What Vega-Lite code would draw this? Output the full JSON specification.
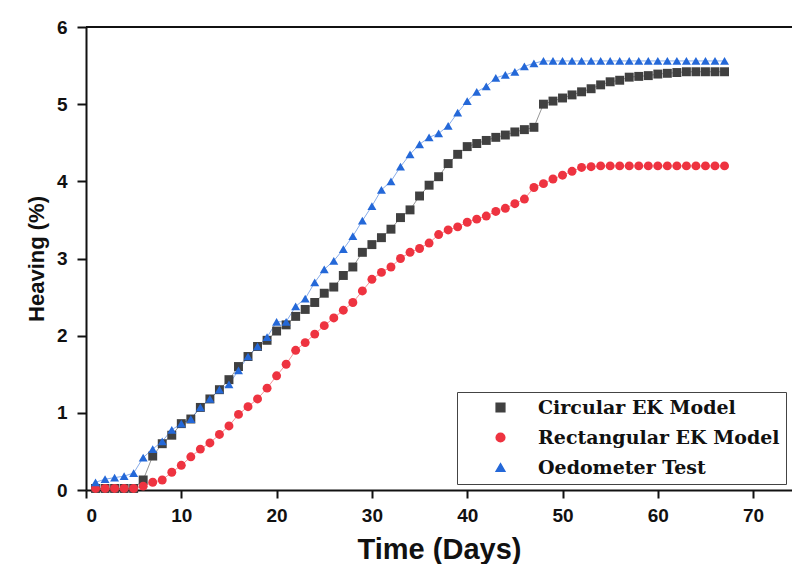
{
  "$schema": "https://vega.github.io/schema/vega-lite/v6.json",
  "autosize": {"type": "none"},
  "padding": {"left": 86, "top": 27, "right": 0, "bottom": 74},
  "width": 706,
  "height": 463,
  "background": "white",
  "config": {
    "view": {"stroke": null},
    "axis": {
      "domainColor": "#111",
      "domainWidth": 2,
      "tickColor": "#111",
      "tickWidth": 2,
      "grid": false,
      "labelFont": "Liberation Sans",
      "labelFontWeight": "bold",
      "labelFontSize": 19,
      "labelColor": "#111",
      "titleFont": "Liberation Sans",
      "titleFontWeight": "bold",
      "titleColor": "#111"
    },
    "legend": {
      "orient": "bottom-right", "offset": 6,
      "strokeColor": "#444", "padding": 6, "fillColor": "white",
      "labelFont": "DejaVu Serif", "labelFontWeight": "bold", "labelFontSize": 19, "labelColor": "#111",
      "symbolSize": 75, "symbolOpacity": 1, "symbolOffset": 28, "labelOffset": 28, "rowPadding": 10, "labelLimit": 400
    }
  },
  "data": {"values": [
    {"s":"Circular EK Model","d":1,"v":0.02},{"s":"Circular EK Model","d":2,"v":0.02},{"s":"Circular EK Model","d":3,"v":0.02},{"s":"Circular EK Model","d":4,"v":0.02},{"s":"Circular EK Model","d":5,"v":0.02},
    {"s":"Circular EK Model","d":6,"v":0.13},{"s":"Circular EK Model","d":7,"v":0.44},{"s":"Circular EK Model","d":8,"v":0.60},{"s":"Circular EK Model","d":9,"v":0.71},{"s":"Circular EK Model","d":10,"v":0.86},
    {"s":"Circular EK Model","d":11,"v":0.92},{"s":"Circular EK Model","d":12,"v":1.07},{"s":"Circular EK Model","d":13,"v":1.18},{"s":"Circular EK Model","d":14,"v":1.30},{"s":"Circular EK Model","d":15,"v":1.43},
    {"s":"Circular EK Model","d":16,"v":1.60},{"s":"Circular EK Model","d":17,"v":1.73},{"s":"Circular EK Model","d":18,"v":1.86},{"s":"Circular EK Model","d":19,"v":1.94},{"s":"Circular EK Model","d":20,"v":2.06},
    {"s":"Circular EK Model","d":21,"v":2.14},{"s":"Circular EK Model","d":22,"v":2.25},{"s":"Circular EK Model","d":23,"v":2.34},{"s":"Circular EK Model","d":24,"v":2.43},{"s":"Circular EK Model","d":25,"v":2.55},
    {"s":"Circular EK Model","d":26,"v":2.63},{"s":"Circular EK Model","d":27,"v":2.78},{"s":"Circular EK Model","d":28,"v":2.89},{"s":"Circular EK Model","d":29,"v":3.08},{"s":"Circular EK Model","d":30,"v":3.18},
    {"s":"Circular EK Model","d":31,"v":3.27},{"s":"Circular EK Model","d":32,"v":3.38},{"s":"Circular EK Model","d":33,"v":3.53},{"s":"Circular EK Model","d":34,"v":3.63},{"s":"Circular EK Model","d":35,"v":3.81},
    {"s":"Circular EK Model","d":36,"v":3.95},{"s":"Circular EK Model","d":37,"v":4.06},{"s":"Circular EK Model","d":38,"v":4.23},{"s":"Circular EK Model","d":39,"v":4.35},{"s":"Circular EK Model","d":40,"v":4.45},
    {"s":"Circular EK Model","d":41,"v":4.49},{"s":"Circular EK Model","d":42,"v":4.53},{"s":"Circular EK Model","d":43,"v":4.57},{"s":"Circular EK Model","d":44,"v":4.60},{"s":"Circular EK Model","d":45,"v":4.64},
    {"s":"Circular EK Model","d":46,"v":4.67},{"s":"Circular EK Model","d":47,"v":4.70},{"s":"Circular EK Model","d":48,"v":5.00},{"s":"Circular EK Model","d":49,"v":5.04},{"s":"Circular EK Model","d":50,"v":5.08},
    {"s":"Circular EK Model","d":51,"v":5.12},{"s":"Circular EK Model","d":52,"v":5.16},{"s":"Circular EK Model","d":53,"v":5.20},{"s":"Circular EK Model","d":54,"v":5.25},{"s":"Circular EK Model","d":55,"v":5.29},
    {"s":"Circular EK Model","d":56,"v":5.31},{"s":"Circular EK Model","d":57,"v":5.35},{"s":"Circular EK Model","d":58,"v":5.36},{"s":"Circular EK Model","d":59,"v":5.37},{"s":"Circular EK Model","d":60,"v":5.39},
    {"s":"Circular EK Model","d":61,"v":5.40},{"s":"Circular EK Model","d":62,"v":5.41},{"s":"Circular EK Model","d":63,"v":5.42},{"s":"Circular EK Model","d":64,"v":5.42},{"s":"Circular EK Model","d":65,"v":5.42},
    {"s":"Circular EK Model","d":66,"v":5.42},{"s":"Circular EK Model","d":67,"v":5.42},
    {"s":"Rectangular EK Model","d":1,"v":0.02},{"s":"Rectangular EK Model","d":2,"v":0.02},{"s":"Rectangular EK Model","d":3,"v":0.02},{"s":"Rectangular EK Model","d":4,"v":0.02},{"s":"Rectangular EK Model","d":5,"v":0.02},
    {"s":"Rectangular EK Model","d":6,"v":0.05},{"s":"Rectangular EK Model","d":7,"v":0.10},{"s":"Rectangular EK Model","d":8,"v":0.13},{"s":"Rectangular EK Model","d":9,"v":0.23},{"s":"Rectangular EK Model","d":10,"v":0.32},
    {"s":"Rectangular EK Model","d":11,"v":0.43},{"s":"Rectangular EK Model","d":12,"v":0.53},{"s":"Rectangular EK Model","d":13,"v":0.61},{"s":"Rectangular EK Model","d":14,"v":0.72},{"s":"Rectangular EK Model","d":15,"v":0.83},
    {"s":"Rectangular EK Model","d":16,"v":0.98},{"s":"Rectangular EK Model","d":17,"v":1.08},{"s":"Rectangular EK Model","d":18,"v":1.18},{"s":"Rectangular EK Model","d":19,"v":1.32},{"s":"Rectangular EK Model","d":20,"v":1.48},
    {"s":"Rectangular EK Model","d":21,"v":1.63},{"s":"Rectangular EK Model","d":22,"v":1.81},{"s":"Rectangular EK Model","d":23,"v":1.91},{"s":"Rectangular EK Model","d":24,"v":2.02},{"s":"Rectangular EK Model","d":25,"v":2.13},
    {"s":"Rectangular EK Model","d":26,"v":2.23},{"s":"Rectangular EK Model","d":27,"v":2.33},{"s":"Rectangular EK Model","d":28,"v":2.43},{"s":"Rectangular EK Model","d":29,"v":2.58},{"s":"Rectangular EK Model","d":30,"v":2.73},
    {"s":"Rectangular EK Model","d":31,"v":2.82},{"s":"Rectangular EK Model","d":32,"v":2.89},{"s":"Rectangular EK Model","d":33,"v":3.00},{"s":"Rectangular EK Model","d":34,"v":3.08},{"s":"Rectangular EK Model","d":35,"v":3.13},
    {"s":"Rectangular EK Model","d":36,"v":3.20},{"s":"Rectangular EK Model","d":37,"v":3.31},{"s":"Rectangular EK Model","d":38,"v":3.37},{"s":"Rectangular EK Model","d":39,"v":3.41},{"s":"Rectangular EK Model","d":40,"v":3.47},
    {"s":"Rectangular EK Model","d":41,"v":3.51},{"s":"Rectangular EK Model","d":42,"v":3.55},{"s":"Rectangular EK Model","d":43,"v":3.61},{"s":"Rectangular EK Model","d":44,"v":3.65},{"s":"Rectangular EK Model","d":45,"v":3.71},
    {"s":"Rectangular EK Model","d":46,"v":3.77},{"s":"Rectangular EK Model","d":47,"v":3.92},{"s":"Rectangular EK Model","d":48,"v":3.97},{"s":"Rectangular EK Model","d":49,"v":4.03},{"s":"Rectangular EK Model","d":50,"v":4.08},
    {"s":"Rectangular EK Model","d":51,"v":4.13},{"s":"Rectangular EK Model","d":52,"v":4.18},{"s":"Rectangular EK Model","d":53,"v":4.19},{"s":"Rectangular EK Model","d":54,"v":4.20},{"s":"Rectangular EK Model","d":55,"v":4.20},
    {"s":"Rectangular EK Model","d":56,"v":4.20},{"s":"Rectangular EK Model","d":57,"v":4.20},{"s":"Rectangular EK Model","d":58,"v":4.20},{"s":"Rectangular EK Model","d":59,"v":4.20},{"s":"Rectangular EK Model","d":60,"v":4.20},
    {"s":"Rectangular EK Model","d":61,"v":4.20},{"s":"Rectangular EK Model","d":62,"v":4.20},{"s":"Rectangular EK Model","d":63,"v":4.20},{"s":"Rectangular EK Model","d":64,"v":4.20},{"s":"Rectangular EK Model","d":65,"v":4.20},
    {"s":"Rectangular EK Model","d":66,"v":4.20},{"s":"Rectangular EK Model","d":67,"v":4.20},
    {"s":"Oedometer Test","d":1,"v":0.10},{"s":"Oedometer Test","d":2,"v":0.14},{"s":"Oedometer Test","d":3,"v":0.16},{"s":"Oedometer Test","d":4,"v":0.18},{"s":"Oedometer Test","d":5,"v":0.22},
    {"s":"Oedometer Test","d":6,"v":0.42},{"s":"Oedometer Test","d":7,"v":0.53},{"s":"Oedometer Test","d":8,"v":0.63},{"s":"Oedometer Test","d":9,"v":0.78},{"s":"Oedometer Test","d":10,"v":0.86},
    {"s":"Oedometer Test","d":11,"v":0.92},{"s":"Oedometer Test","d":12,"v":1.07},{"s":"Oedometer Test","d":13,"v":1.18},{"s":"Oedometer Test","d":14,"v":1.30},{"s":"Oedometer Test","d":15,"v":1.37},
    {"s":"Oedometer Test","d":16,"v":1.55},{"s":"Oedometer Test","d":17,"v":1.73},{"s":"Oedometer Test","d":18,"v":1.86},{"s":"Oedometer Test","d":19,"v":1.98},{"s":"Oedometer Test","d":20,"v":2.18},
    {"s":"Oedometer Test","d":21,"v":2.18},{"s":"Oedometer Test","d":22,"v":2.38},{"s":"Oedometer Test","d":23,"v":2.48},{"s":"Oedometer Test","d":24,"v":2.69},{"s":"Oedometer Test","d":25,"v":2.86},
    {"s":"Oedometer Test","d":26,"v":2.97},{"s":"Oedometer Test","d":27,"v":3.12},{"s":"Oedometer Test","d":28,"v":3.29},{"s":"Oedometer Test","d":29,"v":3.49},{"s":"Oedometer Test","d":30,"v":3.68},
    {"s":"Oedometer Test","d":31,"v":3.89},{"s":"Oedometer Test","d":32,"v":4.00},{"s":"Oedometer Test","d":33,"v":4.19},{"s":"Oedometer Test","d":34,"v":4.35},{"s":"Oedometer Test","d":35,"v":4.48},
    {"s":"Oedometer Test","d":36,"v":4.57},{"s":"Oedometer Test","d":37,"v":4.62},{"s":"Oedometer Test","d":38,"v":4.72},{"s":"Oedometer Test","d":39,"v":4.89},{"s":"Oedometer Test","d":40,"v":5.04},
    {"s":"Oedometer Test","d":41,"v":5.16},{"s":"Oedometer Test","d":42,"v":5.23},{"s":"Oedometer Test","d":43,"v":5.34},{"s":"Oedometer Test","d":44,"v":5.38},{"s":"Oedometer Test","d":45,"v":5.42},
    {"s":"Oedometer Test","d":46,"v":5.49},{"s":"Oedometer Test","d":47,"v":5.53},{"s":"Oedometer Test","d":48,"v":5.56},{"s":"Oedometer Test","d":49,"v":5.56},{"s":"Oedometer Test","d":50,"v":5.56},
    {"s":"Oedometer Test","d":51,"v":5.56},{"s":"Oedometer Test","d":52,"v":5.56},{"s":"Oedometer Test","d":53,"v":5.56},{"s":"Oedometer Test","d":54,"v":5.56},{"s":"Oedometer Test","d":55,"v":5.56},
    {"s":"Oedometer Test","d":56,"v":5.56},{"s":"Oedometer Test","d":57,"v":5.56},{"s":"Oedometer Test","d":58,"v":5.56},{"s":"Oedometer Test","d":59,"v":5.56},{"s":"Oedometer Test","d":60,"v":5.56},
    {"s":"Oedometer Test","d":61,"v":5.56},{"s":"Oedometer Test","d":62,"v":5.56},{"s":"Oedometer Test","d":63,"v":5.56},{"s":"Oedometer Test","d":64,"v":5.56},{"s":"Oedometer Test","d":65,"v":5.56},
    {"s":"Oedometer Test","d":66,"v":5.56},{"s":"Oedometer Test","d":67,"v":5.56}
  ]},
  "encoding": {
    "x": {
      "field": "d", "type": "quantitative",
      "scale": {"domain": [0, 74.08], "nice": false, "zero": false},
      "axis": {"values": [0,10,20,30,40,50,60,70], "title": "Time (Days)", "titleFontSize": 29, "tickSize": 8, "labelPadding": 8, "titleBaseline": "alphabetic", "titlePadding": 33}
    },
    "y": {
      "field": "v", "type": "quantitative",
      "scale": {"domain": [0, 6], "nice": false},
      "axis": {"values": [0,1,2,3,4,5,6], "format": "d", "title": "Heaving (%)", "titleFontSize": 22, "tickSize": 9, "labelPadding": 10, "titlePadding": 8}
    },
    "color": {"field": "s", "type": "nominal", "title": null,
      "scale": {"domain": ["Circular EK Model","Rectangular EK Model","Oedometer Test"], "range": ["#404040","#ee3340","#2468d8"]}}
  },
  "layer": [
    {
      "mark": {"type": "line", "strokeWidth": 1, "opacity": 0.55}
    },
    {
      "mark": {"type": "point", "filled": true, "opacity": 1, "size": 80},
      "encoding": {
        "shape": {"field": "s", "type": "nominal", "title": null,
          "scale": {"domain": ["Circular EK Model","Rectangular EK Model","Oedometer Test"], "range": ["square","circle","triangle-up"]}}
      }
    },
    {
      "mark": {"type": "rule", "color": "#111", "strokeWidth": 2},
      "encoding": {"y": {"datum": 6}, "x": null, "color": null}
    }
  ]
}
